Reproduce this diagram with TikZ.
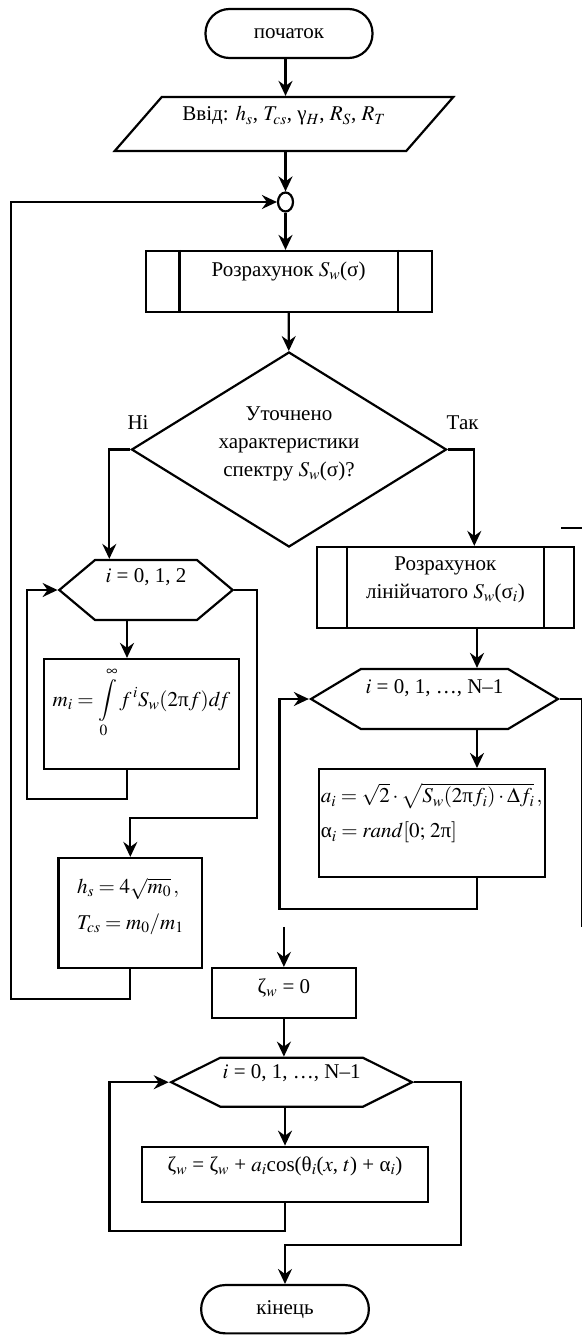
\documentclass[tikz,border=0pt]{standalone}
\usepackage{mathptmx}
\usepackage{fontspec}
\setmainfont{Liberation Serif}
\usetikzlibrary{arrows.meta,positioning,shapes.geometric,shapes.symbols}

\begin{document}
\begin{tikzpicture}[x=1pt, y=-1pt,
  font=\fontsize{21}{28}\selectfont,
  line width=2.2pt,
  shp/.style={draw, inner sep=0pt},
  term/.style={shp, rectangle, rounded corners=24pt},
  io/.style={shp, trapezium, trapezium left angle=41,
    trapezium right angle=139, trapezium stretches=true},
  box/.style={shp, rectangle},
  subproc/.style={box, append after command={
    ([xshift=#1]\tikzlastnode.north west) edge ([xshift=#1]\tikzlastnode.south west)
    ([xshift=-#1]\tikzlastnode.north east) edge ([xshift=-#1]\tikzlastnode.south east)}},
  cond/.style={shp, diamond, aspect=1.6, align=center},
  lim/.style={shp, signal, signal to=west and east, signal pointer angle=#1},
  junc/.style={shp, ellipse},
  lbl/.style={inner sep=0pt},
  lift/.style={text height=14pt, text depth=#1},
  sink/.style={text height=#1, text depth=0pt},
  arr/.style={-{Stealth[length=15pt, width=14pt, inset=5pt]}}]
  \fill[white] (0,0) rectangle (581,1335);
  \useasboundingbox (0,0) rectangle (581,1335);
  \node[term, minimum width=167pt, minimum height=49pt] (start) at (289,33.5) {початок};
  \node[io, minimum width=340pt, minimum height=54pt, lift=20pt] (input) at (284,124)
    {Ввід: $h_s$, $T_{cs}$, γ$_H$, $R_S$, $R_T$};
  \node[junc, minimum width=15pt, minimum height=19pt] (merge) at (285.5,202) {};
  \node[subproc=35pt, minimum width=286pt, minimum height=61pt, lift=24pt] (calcS) at (288.6,281.5)
    {Розрахунок $S_w$(σ)};
  \node[cond, minimum width=315pt, minimum height=195pt, sink=54pt] (check) at (289,449.5)
    {Уточнено\\характеристики\\спектру $S_w$(σ)?};
  \node[lbl, above right=19pt and -4pt of check.west] (no) {Ні};
  \node[lbl, above right=19pt and -2pt of check.east] (yes) {Так};
  \node[lim=80, minimum width=173.4pt, minimum height=60pt, lift=29pt] (cycA) at (146,590)
    {$i$ = 0, 1, 2};
  \node[box, minimum width=195.3pt, minimum height=110pt, lift=30pt] (moment) at (141.4,714)
    {$m_i = \displaystyle\int\limits_0^\infty f^{\,i} S_w(2\mbox{π}f)d\!f$};
  \node[box, align=left, minimum width=143.5pt, minimum height=110pt, sink=32pt] (param) at (130.3,913)
    {$h_s = 4\sqrt{m_0}\,,$\\[8pt]$T_{cs} = m_0/m_1$};
  \node[subproc=31pt, align=center, minimum width=257.2pt, minimum height=81pt, sink=22pt] (calcL) at (445.4,587.5)
    {Розрахунок\\лінійчатого $S_w$(σ$_i$)};
  \node[lim=62, minimum width=247pt, minimum height=60pt, lift=26pt] (cycB) at (434.5,699)
    {$i$ = 0, 1, …, N–1};
  \node[box, align=left, minimum width=226.1pt, minimum height=107.7pt, sink=30pt] (ampl) at (431.7,822.9)
    {$a_i = \sqrt{2}\cdot\sqrt{S_w(2\mbox{π}f_i)\cdot\Delta f_i}\,,$\\[7pt]$\mbox{α}_i = rand[0;\,2\mbox{π}]$};
  \node[box, minimum width=143.7pt, minimum height=50pt, lift=14pt] (zinit) at (283.9,993)
    {ζ$_w$ = 0};
  \node[lim=53, minimum width=240.8pt, minimum height=49pt, lift=22pt] (cycC) at (291.6,1082.2)
    {$i$ = 0, 1, …, N–1};
  \node[box, minimum width=286.1pt, minimum height=55pt, lift=19.5pt] (zsum) at (285,1174.2)
    {ζ$_w$ = ζ$_w$ + $a_i$cos(θ$_i$($x$, $t$) + α$_i$)};
  \node[term, minimum width=167.7pt, minimum height=48.3pt] (stop) at (285,1309.2) {кінець};
  \draw[arr] (start.south -| merge) -- (merge |- input.north);
  \draw[arr] (input.south -| merge) -- (merge);
  \draw[arr] (merge) -- (merge |- calcS.north);
  \draw[arr] (calcS) -- (check);
  \draw[arr] (check.west) -| ([xshift=-36.7pt]cycA.north);
  \draw[arr] (check.east) -| ([xshift=28.9pt]calcL.north);
  \draw[arr] ([xshift=-19pt]cycA.south) -- ([xshift=-19pt]cycA.south |- moment.north);
  \draw[arr] ([xshift=-19pt]cycA.south |- moment.south) -- ++(0,29) -| ([xshift=-30.4pt]cycA.west) -- (cycA.west);
  \draw[arr] (cycA.east) -- ++(22.3,0) |- ([yshift=39pt]param.north) -- (param.north);
  \draw[arr] (param.south) -- ++(0,30) -| ([xshift=-266pt]merge.west) -- (merge.west);
  \draw[arr] ([xshift=31.6pt]calcL.south) -- ([xshift=31.6pt]calcL.south |- cycB.north);
  \draw[arr] ([xshift=42.5pt]cycB.south) -- ([xshift=42.5pt]cycB.south |- ampl.north);
  \draw[arr] ([xshift=45.3pt]ampl.south) -- ++(0,31.3) -| ([xshift=-29.4pt]cycB.west) -- (cycB.west);
  \draw (cycB.east) -- ++(22,0) -- ++(0,228);
  \draw ([shift={(-14pt,18pt)}]calcL.north east) -- ++(21,0);
  \draw[arr] ([yshift=40pt]zinit.north) -- (zinit.north);
  \draw[arr] (zinit) -- (zinit |- cycC.north);
  \draw[arr] (zsum.north |- cycC.south) -- (zsum.north);
  \draw[arr] (zsum.south) -- ++(0,28.3) -| ([xshift=-59.3pt]cycC.west) -- (cycC.west);
  \draw[arr] (cycC.east) -- ++(46.7,0) |- ([yshift=39pt]stop.north) -- (stop.north);
\end{tikzpicture}
\end{document}
